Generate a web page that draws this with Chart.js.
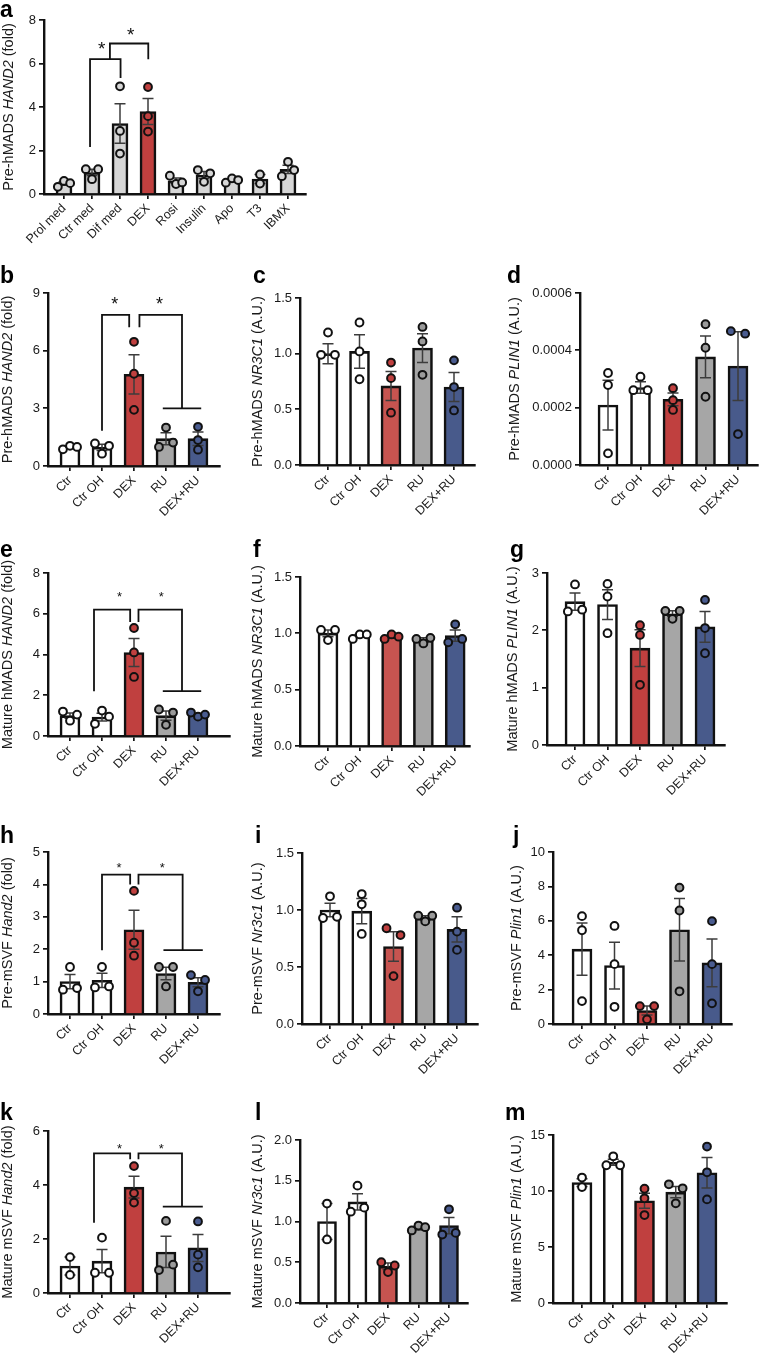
<!DOCTYPE html>
<html>
<head>
<meta charset="utf-8">
<script src="https://cdn.jsdelivr.net/npm/chart.js@4.4.1/dist/chart.umd.min.js"></script>
<style>
  html, body { margin: 0; padding: 0; background: #fff; }
  #fig { position: relative; width: 760px; height: 1357px; overflow: hidden; }
  canvas { position: absolute; }
</style>
</head>
<body>
<div id="fig"></div>
<script>
// ---- data ----
const groupsA = ["Prol med", "Ctr med", "Dif med", "DEX", "Rosi", "Insulin", "Apo", "T3", "IBMX"];
const groups = ["Ctr", "Ctr OH", "DEX", "RU", "DEX+RU"];

// a: Pre-hMADS HAND2 (fold)
const aTicks = [0, 2, 4, 6, 8];
const aMean = [0.48, 0.99, 3.24, 3.79, 0.61, 0.87, 0.63, 0.69, 1.13];
const aSem = [0.08, 0.15, 0.91, 0.6, 0.12, 0.16, 0.06, 0.21, 0.19];
const aDots = [[0.33, 0.6, 0.5], [1.14, 0.68, 1.14], [4.95, 2.9, 1.86], [4.92, 3.58, 2.87], [0.84, 0.46, 0.53],
  [1.1, 0.56, 0.95], [0.52, 0.72, 0.64], [0.9, 0.48], [0.82, 1.48, 1.1]];
const aLines = [[[0.93, 2.16], [0.93, 6.2], [2.02, 6.2], [2.02, 5.33]], [[1.64, 6.2], [1.64, 6.92], [3.01, 6.92], [3.01, 6.2]]];
const aStars = [[1.35, 6.89], [2.38, 7.53]];

// b: Pre-hMADS HAND2 (fold)
const bTicks = [0, 3, 6, 9];
const bMean = [1.0, 0.97, 4.77, 1.42, 1.42];
const bSem = [0.04, 0.16, 1.02, 0.31, 0.35];
const bDots = [[0.87, 1.05, 0.99], [1.17, 0.64, 1.05], [6.46, 4.8, 2.92], [0.99, 2.0, 1.22], [2.04, 1.35, 0.85]];
const bLines = [[[1, 1.83], [1, 7.86], [1.85, 7.86], [1.85, 7.22]], [[2.17, 7.22], [2.17, 7.86], [3.5, 7.86], [3.5, 3.0]], [[2.9, 3.0], [4.1, 3.0]]];
const bStars = [[1.4, 8.65], [2.8, 8.65]];

// c: Pre-hMADS NR3C1 (A.U.)
const cTicks = [0, 0.5, 1.0, 1.5];
const cMean = [1.0, 1.02, 0.71, 1.05, 0.7];
const cSem = [0.09, 0.15, 0.13, 0.13, 0.13];
const cDots = [[0.99, 1.19, 0.99], [1.28, 1.02, 0.77], [0.92, 0.78, 0.47], [1.24, 1.11, 0.81], [0.94, 0.7, 0.49]];

// d: Pre-hMADS PLIN1 (A.U.)
const dTicks = [0, 0.0002, 0.0004, 0.0006];
const dMean = [0.000209, 0.00027, 0.000229, 0.000377, 0.000345];
const dSem = [0.000087, 0.00002, 0.000022, 0.000073, 0.00012];
const dDots = [[0.000321, 0.000279, 0.0000406], [0.000261, 0.000308, 0.000261], [0.000268, 0.000226, 0.000192],
  [0.000491, 0.000409, 0.000238], [0.000467, 0.000108, 0.000458]];

// e: Mature hMADS HAND2 (fold)
const eTicks = [0, 2, 4, 6, 8];
const eMean = [1.0, 0.93, 4.1, 1.0, 1.05];
const eSem = [0.13, 0.19, 0.69, 0.23, 0.06];
const eDots = [[1.2, 0.75, 1.05], [0.6, 1.25, 0.95], [5.3, 4.1, 2.9], [1.3, 0.55, 1.15], [1.15, 0.95, 1.05]];
const eLines = [[[0.75, 2.2], [0.75, 6.2], [1.88, 6.2], [1.88, 5.6]], [[2.14, 5.6], [2.14, 6.2], [3.5, 6.2], [3.5, 2.2]], [[2.9, 2.2], [4.1, 2.2]]];
const eStars = [[1.55, 7.0], [2.85, 7.0]];

// f: Mature hMADS NR3C1 (A.U.)
const fTicks = [0, 0.5, 1.0, 1.5];
const fMean = [1.0, 0.98, 0.97, 0.94, 0.98];
const fSem = [0.03, 0.01, 0.01, 0.02, 0.05];
const fDots = [[1.03, 0.94, 1.03], [0.95, 0.99, 0.99], [0.95, 0.99, 0.97], [0.95, 0.91, 0.96], [0.92, 1.08, 0.95]];

// g: Mature hMADS PLIN1 (A.U.)
const gTicks = [0, 1, 2, 3];
const gMean = [2.5, 2.45, 1.69, 2.29, 2.06];
const gSem = [0.15, 0.26, 0.32, 0.05, 0.27];
const gDots = [[2.33, 2.8, 2.36], [2.81, 2.59, 1.95], [2.09, 1.92, 1.05], [2.34, 2.2, 2.34], [2.53, 2.04, 1.6]];

// h: Pre-mSVF Hand2 (fold)
const hTicks = [0, 1, 2, 3, 4, 5];
const hMean = [1.0, 1.04, 2.6, 1.25, 0.98];
const hSem = [0.22, 0.22, 0.6, 0.19, 0.14];
const hDots = [[0.75, 1.45, 0.8], [0.82, 1.45, 0.85], [3.8, 2.2, 1.8], [1.45, 0.85, 1.45], [1.2, 0.7, 1.05]];
const hLines = [[[1, 1.97], [1, 4.3], [1.88, 4.3], [1.88, 4.0]], [[2.14, 4.0], [2.14, 4.3], [3.52, 4.3], [3.52, 1.97]], [[2.92, 1.97], [4.15, 1.97]]];
const hStars = [[1.53, 4.62], [2.88, 4.62]];

// i: Pre-mSVF Nr3c1 (A.U.)
const iTicks = [0, 0.5, 1.0, 1.5];
const iMean = [1.0, 0.99, 0.68, 0.93, 0.83];
const iSem = [0.06, 0.11, 0.13, 0.02, 0.11];
const iDots = [[0.93, 1.12, 0.94], [1.14, 1.05, 0.79], [0.84, 0.42, 0.78], [0.95, 0.9, 0.95], [1.02, 0.81, 0.65]];

// j: Pre-mSVF Plin1 (A.U.)
const jTicks = [0, 2, 4, 6, 8, 10];
const jMean = [4.35, 3.4, 0.78, 5.48, 3.55];
const jSem = [1.52, 1.36, 0.26, 1.82, 1.39];
const jDots = [[6.27, 5.45, 1.33], [5.7, 3.48, 1.0], [1.04, 0.27, 1.04], [7.93, 6.6, 1.9], [5.98, 3.48, 1.2]];

// k: Mature mSVF Hand2 (fold)
const kTicks = [0, 2, 4, 6];
const kMean = [1.0, 1.18, 3.92, 1.52, 1.67];
const kSem = [0.33, 0.43, 0.4, 0.58, 0.5];
const kDots = [[1.33, 0.67], [0.75, 2.05, 0.75], [4.7, 3.7, 3.35], [0.85, 2.67, 1.05], [2.65, 1.42, 0.95]];
const kLines = [[[0.75, 2.6], [0.75, 5.17], [1.88, 5.17], [1.88, 4.95]], [[2.14, 4.95], [2.14, 5.17], [3.5, 5.17], [3.5, 3.2]], [[2.9, 3.2], [4.15, 3.2]]];
const kStars = [[1.55, 5.45], [2.85, 5.45]];

// l: Mature mSVF Nr3c1 (A.U.)
const lTicks = [0, 0.5, 1.0, 1.5, 2.0];
const lMean = [1.0, 1.24, 0.45, 0.92, 0.95];
const lSem = [0.22, 0.1, 0.04, 0.02, 0.1];
const lDots = [[1.22, 0.78], [1.12, 1.44, 1.17], [0.5, 0.38, 0.46], [0.89, 0.95, 0.93], [0.84, 1.15, 0.86]];

// m: Mature mSVF Plin1 (A.U.)
const mTicks = [0, 5, 10, 15];
const mMean = [10.75, 12.57, 9.13, 9.9, 11.63];
const mSem = [0.35, 0.27, 0.68, 0.5, 1.36];
const mDots = [[11.2, 10.35], [12.3, 13.1, 12.3], [10.2, 9.35, 7.85], [10.6, 8.9, 10.24], [13.97, 11.67, 9.25]];

// ---- styling ----
const FONT = '"Liberation Sans", Arial, Helvetica, sans-serif';
const INK = "#111";
const RED = "#c0403f";
const RED2 = "#c75450";
const GRAY = "#a6a6a6";
const BLUE = "#485a8b";
const LIGHT = "#d6d6d6";
const fiveBars = ["#ffffff", "#ffffff", RED, GRAY, BLUE];
const fiveBarsLight = ["#ffffff", "#ffffff", RED2, GRAY, BLUE];
const fiveDots = ["#ffffff", "#ffffff", RED, "#9a9a9a", "#4a5c90"];
const aBars = groupsA.map((g) => (g === "DEX" ? RED : LIGHT));

const panels = [
  { id: "a", labels: groupsA, ticks: aTicks, dec: 0, mean: aMean, sem: aSem, dots: aDots, lines: aLines, stars: aStars, starSize: 19,
    bars: aBars, dotFill: aBars, title: [["Pre-hMADS ", 0], ["HAND2", 1], [" (fold)", 0]],
    x0: 0, y0: 0, w: 320, h: 255, axisX: 44, topY: 20, zeroY: 194, xEnd: 306, first: 64, step: 28, barW: 16, lx: 0, ly: 17, tx: 9 },
  { id: "b", labels: groups, ticks: bTicks, dec: 0, mean: bMean, sem: bSem, dots: bDots, lines: bLines, stars: bStars, starSize: 18,
    bars: fiveBars, dotFill: fiveDots, title: [["Pre-hMADS ", 0], ["HAND2", 1], [" (fold)", 0]],
    x0: 0, y0: 255, w: 250, h: 275, axisX: 48, topY: 293, zeroY: 466, xEnd: 220, first: 70, step: 32, barW: 20, lx: 0, ly: 283, tx: 8 },
  { id: "c", labels: groups, ticks: cTicks, dec: 1, mean: cMean, sem: cSem, dots: cDots,
    bars: fiveBarsLight, dotFill: fiveDots, title: [["Pre-hMADS ", 0], ["NR3C1", 1], [" (A.U.)", 0]],
    x0: 250, y0: 255, w: 250, h: 275, axisX: 300, topY: 298, zeroY: 465, xEnd: 475, first: 328, step: 31.5, barW: 20, lx: 253, ly: 283, tx: 258 },
  { id: "d", labels: groups, ticks: dTicks, dec: 4, mean: dMean, sem: dSem, dots: dDots,
    bars: fiveBars, dotFill: fiveDots, title: [["Pre-hMADS ", 0], ["PLIN1", 1], [" (A.U.)", 0]],
    x0: 500, y0: 255, w: 260, h: 275, axisX: 580, topY: 293, zeroY: 465, xEnd: 758, first: 608, step: 32.5, barW: 20, lx: 507, ly: 283, tx: 515 },
  { id: "e", labels: groups, ticks: eTicks, dec: 0, mean: eMean, sem: eSem, dots: eDots, lines: eLines, stars: eStars, starSize: 13,
    bars: fiveBars, dotFill: fiveDots, title: [["Mature hMADS ", 0], ["HAND2", 1], [" (fold)", 0]],
    x0: 0, y0: 530, w: 250, h: 275, axisX: 48, topY: 573, zeroY: 736, xEnd: 230, first: 70, step: 32, barW: 20, lx: 0, ly: 557, tx: 8 },
  { id: "f", labels: groups, ticks: fTicks, dec: 1, mean: fMean, sem: fSem, dots: fDots,
    bars: fiveBarsLight, dotFill: fiveDots, title: [["Mature hMADS ", 0], ["NR3C1", 1], [" (A.U.)", 0]],
    x0: 250, y0: 530, w: 250, h: 275, axisX: 300, topY: 577, zeroY: 746, xEnd: 470, first: 328, step: 31.8, barW: 20, lx: 253, ly: 557, tx: 258 },
  { id: "g", labels: groups, ticks: gTicks, dec: 0, mean: gMean, sem: gSem, dots: gDots,
    bars: fiveBars, dotFill: fiveDots, title: [["Mature hMADS ", 0], ["PLIN1", 1], [" (A.U.)", 0]],
    x0: 500, y0: 530, w: 260, h: 275, axisX: 547, topY: 573, zeroY: 745, xEnd: 725, first: 575, step: 32.5, barW: 20, lx: 510, ly: 557, tx: 513 },
  { id: "h", labels: groups, ticks: hTicks, dec: 0, mean: hMean, sem: hSem, dots: hDots, lines: hLines, stars: hStars, starSize: 13,
    bars: fiveBars, dotFill: fiveDots, title: [["Pre-mSVF ", 0], ["Hand2", 1], [" (fold)", 0]],
    x0: 0, y0: 805, w: 250, h: 275, axisX: 48, topY: 852, zeroY: 1014, xEnd: 220, first: 70, step: 32, barW: 20, lx: 0, ly: 843, tx: 8 },
  { id: "i", labels: groups, ticks: iTicks, dec: 1, mean: iMean, sem: iSem, dots: iDots,
    bars: fiveBarsLight, dotFill: fiveDots, title: [["Pre-mSVF ", 0], ["Nr3c1", 1], [" (A.U.)", 0]],
    x0: 250, y0: 805, w: 250, h: 275, axisX: 302, topY: 853, zeroY: 1024, xEnd: 478, first: 330, step: 31.75, barW: 20, lx: 255, ly: 843, tx: 258 },
  { id: "j", labels: groups, ticks: jTicks, dec: 0, mean: jMean, sem: jSem, dots: jDots,
    bars: fiveBars, dotFill: fiveDots, title: [["Pre-mSVF ", 0], ["Plin1", 1], [" (A.U.)", 0]],
    x0: 500, y0: 805, w: 260, h: 275, axisX: 553, topY: 852, zeroY: 1024, xEnd: 732, first: 582, step: 32.5, barW: 20, lx: 513, ly: 843, tx: 517 },
  { id: "k", labels: groups, ticks: kTicks, dec: 0, mean: kMean, sem: kSem, dots: kDots, lines: kLines, stars: kStars, starSize: 13,
    bars: fiveBars, dotFill: fiveDots, title: [["Mature mSVF ", 0], ["Hand2", 1], [" (fold)", 0]],
    x0: 0, y0: 1080, w: 250, h: 277, axisX: 48, topY: 1131, zeroY: 1293, xEnd: 230, first: 70, step: 32, barW: 20, lx: 0, ly: 1120, tx: 8 },
  { id: "l", labels: groups, ticks: lTicks, dec: 1, mean: lMean, sem: lSem, dots: lDots,
    bars: fiveBarsLight, dotFill: fiveDots, title: [["Mature mSVF ", 0], ["Nr3c1", 1], [" (A.U.)", 0]],
    x0: 250, y0: 1080, w: 250, h: 277, axisX: 300, topY: 1140, zeroY: 1303, xEnd: 468, first: 327, step: 30.5, barW: 19, lx: 255, ly: 1120, tx: 258 },
  { id: "m", labels: groups, ticks: mTicks, dec: 0, mean: mMean, sem: mSem, dots: mDots,
    bars: fiveBars, dotFill: fiveDots, title: [["Mature mSVF ", 0], ["Plin1", 1], [" (A.U.)", 0]],
    x0: 500, y0: 1080, w: 260, h: 277, axisX: 553, topY: 1135, zeroY: 1303, xEnd: 727, first: 582, step: 31.25, barW: 20, lx: 505, ly: 1120, tx: 517 },
];

// spread points that sit at nearly the same height, like Prism does
function dotOffsets(vals, yScale, step, gap) {
  const px = vals.map((v) => yScale.getPixelForValue(v));
  const order = vals.map((_, i) => i).sort((a, b) => px[a] - px[b]);
  const clusters = [];
  let cur = [order[0]];
  for (let k = 1; k < order.length; k++) {
    if (px[order[k]] - px[order[k - 1]] < gap) cur.push(order[k]);
    else { clusters.push(cur); cur = [order[k]]; }
  }
  clusters.push(cur);
  const off = vals.map(() => 0);
  clusters.forEach((c) => {
    c.sort((a, b) => a - b);
    if (c.length === 2) { off[c[0]] = -step; off[c[1]] = step; }
    else if (c.length > 2) c.forEach((idx, j) => { off[idx] = (j - (c.length - 1) / 2) * step; });
  });
  return off;
}

function drawTitle(ctx, parts, cx, cy, size) {
  ctx.save();
  ctx.translate(cx, cy);
  ctx.rotate(-Math.PI / 2);
  const fonts = parts.map(([, it]) => (it ? "italic " : "") + size + "px " + FONT);
  const widths = parts.map(([t], i) => { ctx.font = fonts[i]; return ctx.measureText(t).width; });
  let x = -widths.reduce((s, w) => s + w, 0) / 2;
  ctx.textBaseline = "middle";
  ctx.textAlign = "left";
  ctx.fillStyle = "#1a1a1a";
  parts.forEach(([t], i) => { ctx.font = fonts[i]; ctx.fillText(t, x, 0); x += widths[i]; });
  ctx.restore();
}

function decor(p) {
  return {
    id: "decor_" + p.id,
    afterDraw(chart) {
      const ctx = chart.ctx;
      const xs = chart.scales.x;
      const ys = chart.scales.y;
      ctx.save();

      // error bars (mean ± SEM)
      ctx.strokeStyle = "#3c3c3c";
      ctx.lineWidth = 1.5;
      p.mean.forEach((m, i) => {
        const x = xs.getPixelForValue(i);
        const yHi = ys.getPixelForValue(m + p.sem[i]);
        const yLo = ys.getPixelForValue(Math.max(0, m - p.sem[i]));
        ctx.beginPath();
        ctx.moveTo(x, yLo); ctx.lineTo(x, yHi);
        ctx.moveTo(x - 5.5, yHi); ctx.lineTo(x + 5.5, yHi);
        ctx.moveTo(x - 5.5, yLo); ctx.lineTo(x + 5.5, yLo);
        ctx.stroke();
      });

      // individual points
      const step = p.step * 0.22;
      p.dots.forEach((vals, i) => {
        const off = dotOffsets(vals, ys, step, 9);
        vals.forEach((v, k) => {
          ctx.beginPath();
          ctx.arc(xs.getPixelForValue(i) + off[k], ys.getPixelForValue(v), 3.9, 0, Math.PI * 2);
          ctx.fillStyle = p.dotFill[i];
          ctx.fill();
          ctx.lineWidth = 2;
          ctx.strokeStyle = INK;
          ctx.stroke();
        });
      });

      // significance brackets
      if (p.lines) {
        ctx.strokeStyle = INK;
        ctx.lineWidth = 1.8;
        ctx.lineJoin = "miter";
        p.lines.forEach((pl) => {
          ctx.beginPath();
          pl.forEach(([cx, cy], k) => {
            const X = xs.getPixelForValue(cx), Y = ys.getPixelForValue(cy);
            if (k === 0) ctx.moveTo(X, Y); else ctx.lineTo(X, Y);
          });
          ctx.stroke();
        });
        ctx.fillStyle = INK;
        ctx.font = p.starSize + "px " + FONT;
        ctx.textAlign = "center";
        ctx.textBaseline = "alphabetic";
        p.stars.forEach(([cx, cy]) => {
          ctx.fillText("*", xs.getPixelForValue(cx), ys.getPixelForValue(cy) + p.starSize * 0.57);
        });
      }

      // axis title and panel letter
      drawTitle(ctx, p.title, p.tx - p.x0, (p.topY + p.zeroY) / 2 - p.y0, 14.5);
      ctx.fillStyle = "#000";
      ctx.font = "bold 23px " + FONT;
      ctx.textAlign = "left";
      ctx.textBaseline = "alphabetic";
      ctx.fillText(p.id, p.lx - p.x0, p.ly - p.y0);
      ctx.restore();
    },
  };
}

Chart.defaults.font.family = FONT;

panels.forEach((p) => {
  const cv = document.createElement("canvas");
  cv.width = p.w;
  cv.height = p.h;
  cv.style.left = p.x0 + "px";
  cv.style.top = p.y0 + "px";
  cv.style.width = p.w + "px";
  cv.style.height = p.h + "px";
  document.getElementById("fig").appendChild(cv);

  const xMin = -(p.first - p.axisX) / p.step;
  const xMax = (p.xEnd - p.first) / p.step;
  const yMax = p.ticks[p.ticks.length - 1];

  new Chart(cv, {
    type: "bar",
    data: {
      datasets: [{
        data: p.mean.map((m, i) => ({ x: i, y: m })),
        backgroundColor: p.bars,
        borderColor: INK,
        borderWidth: 2.6,
        barThickness: p.barW,
        borderSkipped: "start",
      }],
    },
    options: {
      responsive: false,
      animation: false,
      devicePixelRatio: 1,
      layout: { padding: { top: p.topY - p.y0, right: p.x0 + p.w - p.xEnd, left: 0, bottom: 0 } },
      plugins: { legend: { display: false }, tooltip: { enabled: false } },
      scales: {
        x: {
          type: "linear",
          min: xMin,
          max: xMax,
          offset: false,
          z: 1,
          afterBuildTicks: (s) => { s.ticks = p.labels.map((_, i) => ({ value: i })); },
          afterFit: (s) => { s.height = p.y0 + p.h - p.zeroY; },
          ticks: {
            autoSkip: false,
            minRotation: 45,
            maxRotation: 45,
            padding: 2,
            color: "#1a1a1a",
            font: { size: 12.5 },
            callback: (v) => p.labels[Math.round(v)],
          },
          grid: { offset: false, drawOnChartArea: false, drawTicks: true, tickLength: 5, tickColor: INK, lineWidth: 1.7 },
          border: { display: true, color: INK, width: 2.4 },
        },
        y: {
          type: "linear",
          min: 0,
          max: yMax,
          z: 1,
          afterBuildTicks: (s) => { s.ticks = p.ticks.map((v) => ({ value: v })); },
          afterFit: (s) => { s.width = p.axisX - p.x0; },
          ticks: {
            padding: 3,
            color: "#1a1a1a",
            font: { size: 13 },
            callback: (v) => Number(v).toFixed(p.dec),
          },
          grid: { drawOnChartArea: false, drawTicks: true, tickLength: 5, tickColor: INK, lineWidth: 1.7 },
          border: { display: true, color: INK, width: 2.4 },
        },
      },
    },
    plugins: [decor(p)],
  });
});
</script>
</body>
</html>
